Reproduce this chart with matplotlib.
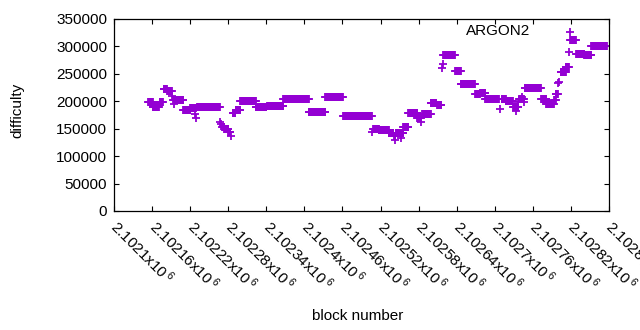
import numpy as np
import matplotlib
matplotlib.use("Agg")
import matplotlib.pyplot as plt

plt.rcParams["font.family"] = ["Liberation Sans", "DejaVu Sans"]

# ---- data -------------------------------------------------------------------
# difficulty stays constant over runs of blocks: (first block, last block, value)
RUN_START = [2102154, 2102161, 2102172, 2102178, 2102184, 2102193, 2102209,
             2102220, 2102231, 2102270, 2102274, 2102280, 2102287, 2102292,
             2102299, 2102323, 2102341, 2102367, 2102407, 2102433, 2102461,
             2102508, 2102517, 2102533, 2102541, 2102544, 2102556, 2102564,
             2102578, 2102586, 2102599, 2102609, 2102619, 2102638, 2102646,
             2102669, 2102677, 2102685, 2102711, 2102717, 2102729, 2102738,
             2102747, 2102773, 2102781, 2102794, 2102796, 2102804, 2102812,
             2102819, 2102828, 2102841, 2102852]
RUN_END = [2102161, 2102171, 2102177, 2102183, 2102191, 2102209, 2102220,
           2102229, 2102267, 2102274, 2102280, 2102283, 2102291, 2102299,
           2102323, 2102340, 2102367, 2102407, 2102433, 2102461, 2102506,
           2102517, 2102533, 2102540, 2102543, 2102556, 2102564, 2102578,
           2102583, 2102599, 2102608, 2102616, 2102637, 2102646, 2102669,
           2102676, 2102685, 2102706, 2102717, 2102728, 2102737, 2102746,
           2102773, 2102781, 2102793, 2102796, 2102799, 2102812, 2102817,
           2102828, 2102841, 2102852, 2102877]
RUN_DIFF = [198200, 189000, 198200, 222000, 218700, 201800, 183600,
            187200, 189000, 153100, 148600, 144000, 178100, 183600,
            200000, 188700, 192000, 203600, 179900, 207300, 173700,
            149300, 147700, 141600, 136700, 141600, 152600, 178100,
            169000, 176300, 196300, 194100, 283800, 254700, 231500,
            212700, 214600, 203600, 203300, 201100, 189000, 203600,
            224800, 203600, 195100, 202300, 213300, 252800, 262000,
            312300, 286700, 284400, 301300]

# isolated blocks that stand apart from the runs
SINGLE_BLOCK = [2102192, 2102195, 2102228, 2102229, 2102267, 2102268,
                2102285, 2102507, 2102543, 2102552, 2102584, 2102617,
                2102618, 2102708, 2102733, 2102737, 2102743, 2102746,
                2102800, 2102801, 2102817, 2102818]
SINGLE_DIFF = [209600, 194500, 176300, 170100, 162800, 157700,
               137600, 144600, 130300, 132500, 162800, 261200,
               267400, 185400, 182800, 198200, 207300, 199200,
               232800, 235700, 289300, 325800]

X_TICKS = np.arange(2102100, 2102881, 60)
Y_TICKS = np.arange(0, 350001, 50000)
COLOR = "#9400d3"

# expand runs to one point per block
blocks, diffs = [], []
for s, e, d in zip(RUN_START, RUN_END, RUN_DIFF):
    for b in range(s, e + 1):
        blocks.append(b)
        diffs.append(d)
blocks += SINGLE_BLOCK
diffs += SINGLE_DIFF

fig = plt.figure(figsize=(6.4, 3.3), dpi=100)
ax = fig.add_axes([114 / 640, 1 - 211 / 330, 495 / 640, 192 / 330])

ax.plot(blocks, diffs, linestyle="none", marker="+", color=COLOR,
        markersize=6.2, markeredgewidth=1.3)

ax.set_xlim(X_TICKS[0], X_TICKS[-1])
ax.set_ylim(0, 350000)
ax.set_xticks(X_TICKS)
# gnuplot-style "x10^6" labels
ax.set_xticklabels([f"{t / 1e6:g}x" + r"$\mathregular{10\,^{6}}$" for t in X_TICKS],
                   rotation=-45, ha="left", va="center", rotation_mode="anchor")
ax.set_yticks(Y_TICKS)
ax.set_yticklabels([str(v) for v in Y_TICKS])
ax.tick_params(direction="in", length=3.5, width=0.8, top=True, right=True,
               labelsize=11, colors="black")
ax.tick_params(axis="y", pad=5)
ax.tick_params(axis="x", pad=9)
for sp in ax.spines.values():
    sp.set_linewidth(0.9)

ax.text(0.775, 0.935, "ARGON2", transform=ax.transAxes, ha="center",
        va="center", fontsize=11)
fig.text(17 / 640, 1 - 110 / 330, "difficulty", rotation=90, ha="center",
         va="center", fontsize=11)
fig.text(358 / 640, 1 - 316 / 330, "block number", ha="center",
         va="center", fontsize=11)

fig.savefig("out.png", dpi=100)
